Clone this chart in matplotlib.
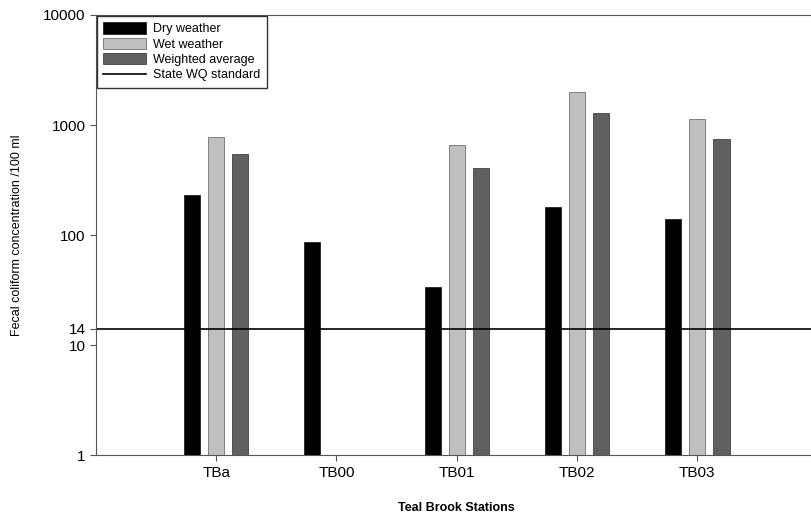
import matplotlib
matplotlib.use('Agg')
import matplotlib.pyplot as plt
import numpy as np

plt.rcParams['font.family'] = ['Liberation Sans', 'DejaVu Sans']

stations = ['TBa', 'TB00', 'TB01', 'TB02', 'TB03']
dry = [230, 87, 34, 181, 139]
wet = [780, np.nan, 660, 2010, 1130]
weighted = [540, np.nan, 405, 1290, 740]
standard = 14

fig = plt.figure(figsize=(8.12, 5.16), dpi=100)
ax = fig.add_axes([0.118, 0.118, 0.889, 0.853])

x = np.arange(len(stations))
w = 0.135
ax.bar(x - 0.2, dry, w, color='black', edgecolor='#222222', lw=0.6, label='Dry weather')
ax.bar(x, wet, w, color='#c0c0c0', edgecolor='#707070', lw=0.6, label='Wet weather')
ax.bar(x + 0.2, weighted, w, color='#606060', edgecolor='#404040', lw=0.6, label='Weighted average')
ax.axhline(standard, color='black', lw=1.2, label='State WQ standard')

ax.set_yscale('log')
ax.set_ylim(1, 10000)
ax.set_xlim(-1, 5)
ax.set_yticks([1, 10, standard, 100, 1000, 10000])
ax.set_yticklabels(['1', '10', '14', '100', '1000', '10000'])
ax.yaxis.set_minor_locator(matplotlib.ticker.NullLocator())
ax.set_xticks(x)
ax.set_xticklabels(stations)
ax.tick_params(labelsize=11, length=4, color='#555555')

for s in ['top', 'bottom', 'left', 'right']:
    ax.spines[s].set_color('#555555')

ax.set_xlabel('Teal Brook Stations', fontsize=9, fontweight='bold', labelpad=16)
ax.set_ylabel('Fecal coliform concentration /100 ml', fontsize=9, labelpad=14)

handles, labels = ax.get_legend_handles_labels()
order = [1, 2, 3, 0]
ax.legend([handles[i] for i in order], [labels[i] for i in order],
          loc='upper left', fontsize=9, frameon=True, fancybox=False,
          borderaxespad=0.1, handlelength=3.4, handleheight=1.0,
          labelspacing=0.2, handletextpad=0.6, borderpad=0.5,
          edgecolor='#333333', framealpha=1)

fig.savefig('out.png', dpi=100)
